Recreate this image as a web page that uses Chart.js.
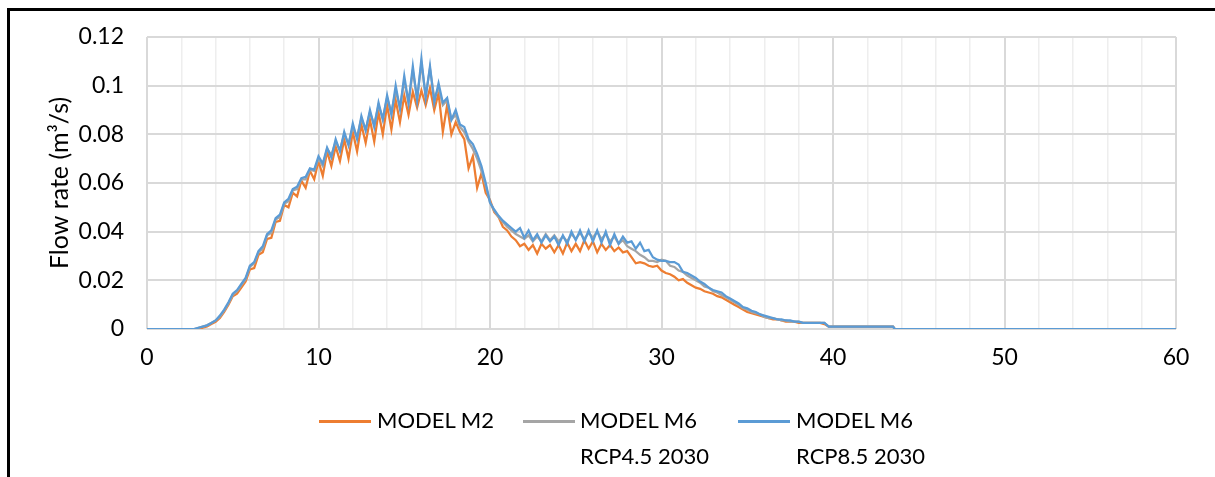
<!DOCTYPE html>
<html><head><meta charset="utf-8">
<script src="https://cdn.jsdelivr.net/npm/chart.js@4"></script>
<style>
html,body{margin:0;padding:0;background:#fff;}
#wrap{position:relative;width:1215px;height:477px;overflow:hidden;background:#fff;}
#frame{position:absolute;left:7px;top:8px;width:1300px;height:600px;border-left:3px solid #000;border-top:3px solid #000;box-sizing:border-box;}
#c{position:absolute;left:0;top:0;}
.leg{position:absolute;font-family:Lato,sans-serif;font-size:22px;color:#000;line-height:36px;white-space:nowrap;}
.sw{position:absolute;height:3px;}
</style></head>
<body>
<div id="wrap">
<div id="frame"></div>
<canvas id="c" width="1215" height="477"></canvas>
<div class="sw" style="left:319px;top:420px;width:52px;background:#ED7D31"></div>
<div class="leg" style="left:377px;top:402px">MODEL M2</div>
<div class="sw" style="left:523px;top:420px;width:52px;background:#A5A5A5"></div>
<div class="leg" style="left:580px;top:402px">MODEL M6<br>RCP4.5 2030</div>
<div class="sw" style="left:738px;top:420px;width:52px;background:#5B9BD5"></div>
<div class="leg" style="left:796px;top:402px">MODEL M6<br>RCP8.5 2030</div>
</div>
<script>
// Flow rate readings in L/s (1 L/s = 0.001 m3/s), sampled every 0.25 from x = 2.0 to 39.75
const GRID_START = 2.0, GRID_STEP = 0.25;
const m2_Ls = [
 0,0,0,0,
 0,0.5,1,2,
 3,4.5,7,10,
 13.5,14.5,17,19.5,
 24.5,25,30.5,31.5,
 37,37.5,44,44.5,
 51,50,56,54.5,
 61,58,65,61.5,
 69,63,73,67,
 75,69,78,70,
 81,73,84,76.5,
 86,77,89,80,
 92,82,94,85,
 96,88,97.5,91,
 98,92,99,90,
 97,81,92,80,
 85,81,78,66,
 71,58,64,56,
 53,48,46,42,
 40.5,38,36.5,34,
 35,32.5,34.5,31,
 35,33,34.5,31.5,
 34.5,31,35.5,32,
 35,32,36.5,33,
 36,31.5,35,32.5,
 34.5,32,33.5,31.5,
 32,29.5,27,27.5,
 27,26,25.5,26,
 24,23,22.5,21.5,
 20,20.5,19,18,
 17,16.5,15.5,15,
 14.5,13.5,13,12,
 11,10,9,8,
 7,6.5,6,5.5,
 5,4.5,4,4,
 3.5,3,3,3,
 2.5,2.5,2.5,2.5,
 2.5,2.5,2,1
];
const rcp45_Ls = [
 0,0,0,0,
 0.5,1,1.5,2.5,
 3.5,5,7.5,10.5,
 14,15.5,18,20.5,
 25.5,27,31.5,33,
 38.5,39.5,45,46,
 51.5,52.5,57,57.5,
 61.5,61.5,65.5,65,
 70,67,74,71.5,
 77,73.5,80,76,
 83,79,86.5,82,
 89,84,92,86.5,
 95,89,98,91,
 102,93,106,95,
 109,96,107,95,
 99,92,94,86,
 88,83,81,77,
 74,70,65,59,
 52,48.5,46,44,
 42,40.5,39,38,
 37,38.5,36,38,
 36,39,36.5,38.5,
 36,38,36,39,
 37,39.5,37,39.5,
 37.5,40,37,39,
 36,38,35,36.5,
 34,33,32,30.5,
 29.5,28,28,27.5,
 28.5,28,26,25.5,
 24,23.5,22,21,
 20,19,17.5,17,
 15.5,15,14,13,
 12,11,10,8.5,
 8,7,6.5,6,
 5,4.5,4.5,4,
 3.5,3.5,3,3,
 3,2.5,2.5,2.5,
 2.5,2.5,2.5,1
];
const rcp85_Ls = [
 0,0,0,0,
 0.5,1,1.5,2.5,
 3.5,5.5,8,11,
 14.5,16,18.5,21,
 26,27.5,32,34,
 39,40.5,45.5,47,
 52,53.5,57.5,58.5,
 62,62.5,66,65.5,
 71,68,74.5,70.5,
 78,73,81,75.5,
 84.5,78,87.5,81.5,
 90,83,93,86,
 96,88,100,90.5,
 104,93,108,94,
 111,95,108,93,
 101,93,95,86,
 90,84,83,78,
 76,72,67,60,
 52,49,46.5,44.5,
 43,41.5,40,41.5,
 37.5,40.5,36.5,39,
 35.5,38.5,36,38,
 34.5,38.5,35,40,
 36.5,40.5,36,40.5,
 36,40.5,35.5,40,
 34.5,39,35,38,
 35.5,36,33,35.5,
 32,32.5,29.5,28.5,
 28,28,27.5,27.5,
 26.5,23.5,23,22,
 21,19.5,18.5,17,
 16,15.5,15,13.5,
 12.5,11.5,10.5,9,
 8.5,7.5,7,6,
 5.5,5,4.5,4,
 4,3.5,3.5,3,
 3,2.5,2.5,2.5,
 2.5,2.5,2.5,1
];
// start and tail points (x, L/s)
const headX = [0];
const m2Head = [0], rcp45Head = [0], rcp85Head = [0];
const tailX = [43.5, 43.6, 60];
const m2Tail = [1, 0, 0], rcp45Tail = [1, 0, 0], rcp85Tail = [1, 0, 0];

const xTickLabels = ['0','10','20','30','40','50','60'];
const yTickLabels = ['0','0.02','0.04','0.06','0.08','0.1','0.12'];
const seriesNames = ['MODEL M2','MODEL M6 RCP4.5 2030','MODEL M6 RCP8.5 2030'];
const seriesColors = ['#ED7D31','#A5A5A5','#5B9BD5'];

const LS_TO_M3S = 0.001;
function build(head, vals, tail){
  const pts = [];
  headX.forEach((x,i)=>pts.push({x:x, y:head[i]*LS_TO_M3S}));
  vals.forEach((v,i)=>pts.push({x:GRID_START + i*GRID_STEP, y:v*LS_TO_M3S}));
  tailX.forEach((x,i)=>pts.push({x:x, y:tail[i]*LS_TO_M3S}));
  return pts;
}

const FONT = {family:'Lato', size:23};
const TITLE_FONT = {family:'Lato', size:25};
function draw(){
  new Chart(document.getElementById('c'), {
    type:'line',
    data:{datasets:[
      {label:seriesNames[0], data:build(m2Head,m2_Ls,m2Tail), borderColor:seriesColors[0], order:2},
      {label:seriesNames[1], data:build(rcp45Head,rcp45_Ls,rcp45Tail), borderColor:seriesColors[1], order:1},
      {label:seriesNames[2], data:build(rcp85Head,rcp85_Ls,rcp85Tail), borderColor:seriesColors[2], order:0}
    ].map(d=>Object.assign(d,{borderWidth:2.25, pointRadius:0, tension:0, fill:false}))},
    options:{
      responsive:false, animation:false, devicePixelRatio:1,
      layout:{padding:{left:42, top:37, right:39, bottom:88}},
      plugins:{legend:{display:false}, tooltip:{enabled:false}},
      scales:{
        x:{type:'linear', min:0, max:60,
          ticks:{stepSize:2, autoSkip:false, maxRotation:0, padding:15, color:'#000', font:FONT,
            callback:(v)=> (v % 10 === 0 ? xTickLabels[v/10] : '')},
          grid:{drawTicks:false, color:(c)=> (c.tick && c.tick.value % 10 === 0 ? '#d9d9d9' : '#eeeeee'),
            lineWidth:(c)=> (c.tick && c.tick.value % 10 === 0 ? 2 : 1.5)},
          border:{display:false},
          afterFit:(s)=>{ s.height = 60; }
        },
        y:{min:0, max:0.12,
          ticks:{stepSize:0.02, padding:23, color:'#000', font:FONT,
            callback:(v,i)=> yTickLabels[i]},
          grid:{drawTicks:false, color:'#d9d9d9', lineWidth:2},
          border:{display:false},
          title:{display:true, text:'Flow rate (m³/s)', color:'#000', font:TITLE_FONT, padding:{top:3,bottom:0}},
          afterFit:(s)=>{ s.width = 105; }
        }
      }
    }
  });
}
if (document.fonts && document.fonts.load) {
  Promise.all([document.fonts.load('23px Lato'), document.fonts.load('25px Lato')]).then(draw, draw);
} else { draw(); }
</script>
</body></html>
